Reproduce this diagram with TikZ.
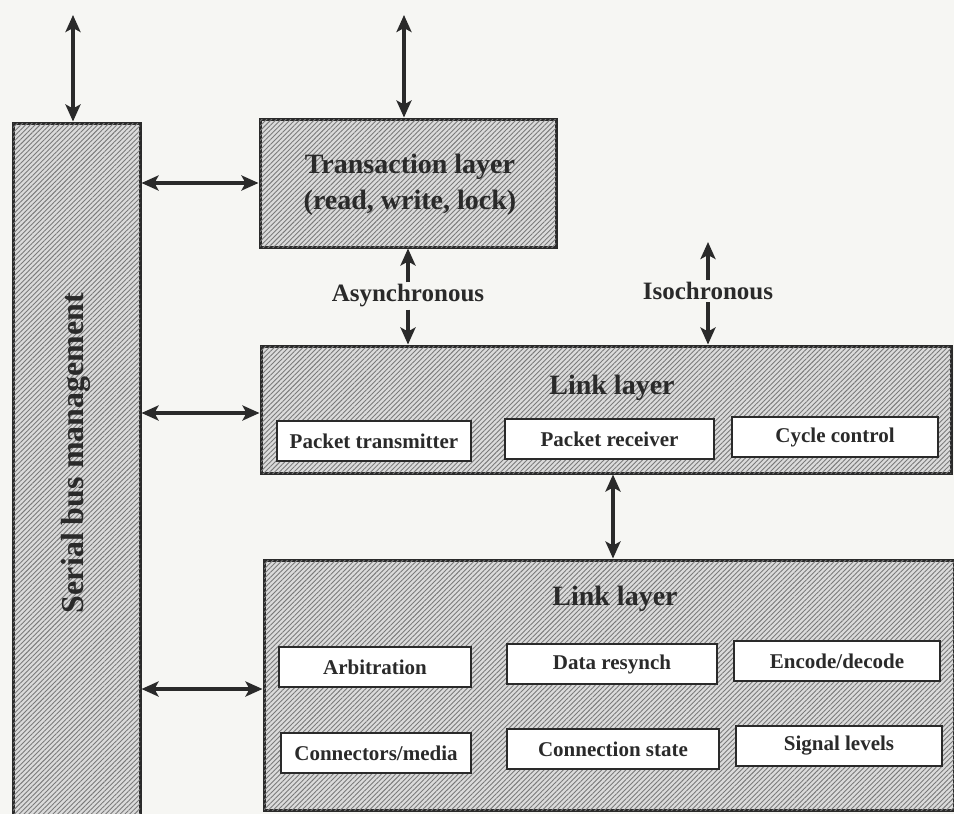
\documentclass[tikz,border=0pt]{standalone}
\usepackage{fontspec}
\setmainfont{Liberation Serif}
\usetikzlibrary{patterns.meta,arrows.meta}
\definecolor{ink}{HTML}{2A2A2A}
\definecolor{paper}{HTML}{F6F6F3}
\tikzset{
  hatched/.style={draw=ink, line width=3pt, fill=gray!28,
    postaction={pattern={Lines[angle=45,distance=3.4pt,line width=0.9pt]}, pattern color=gray!70!black!80}},
  subbox/.style={draw=ink, line width=2pt, fill=white, minimum height=40pt, inner sep=0pt,
    font=\fontsize{21}{24}\selectfont\bfseries, text=ink},
  title/.style={font=\fontsize{28}{34}\selectfont\bfseries, text=ink, inner sep=0pt},
  lbl/.style={font=\fontsize{25}{28}\selectfont\bfseries, text=ink, inner sep=2pt},
  tip/.style={Stealth[length=17pt,width=15pt,inset=4pt]},
  conn/.style={draw=ink, line width=3.4pt, {Stealth[length=17pt,width=15pt,inset=4pt]}-{Stealth[length=17pt,width=15pt,inset=4pt]}},
  oneway/.style={draw=ink, line width=3.4pt, -{Stealth[length=17pt,width=15pt,inset=4pt]}}
}
\begin{document}
\begin{tikzpicture}[x=1pt,y=-1pt]
\useasboundingbox (0,0) rectangle (954,814);
\fill[paper] (0,0) rectangle (954,814);

% main boxes
\node[hatched, minimum width=127pt, minimum height=720pt, inner sep=0pt] (sbm) at (76.5,483) {};
\node[rotate=90, font=\fontsize{32}{36}\selectfont\bfseries, text=ink] (sbmtext) at (76,453) {Serial bus management};

\node[hatched, minimum width=296pt, minimum height=128pt, inner sep=0pt] (trans) at (408,183) {};
\node[title, align=center, font=\fontsize{28}{36}\selectfont\bfseries] (transtext) at (410,185) {Transaction layer\\(read, write, lock)};

\node[hatched, minimum width=690pt, minimum height=127pt, inner sep=0pt] (link1) at (606,409.5) {};
\node[title] (link1title) at (612,388) {Link layer};
\node[subbox, minimum width=194pt] (ptx) at (374,441) {Packet transmitter};
\node[subbox, minimum width=209pt] (prx) at (609.5,439) {Packet receiver};
\node[subbox, minimum width=206pt] (cyc) at (835,437) {Cycle control};

\node[hatched, minimum width=690pt, minimum height=250pt, inner sep=0pt] (link2) at (609,685) {};
\node[title] (link2title) at (615,599) {Link layer};
\node[subbox, minimum width=192pt] (arb) at (375,667) {Arbitration};
\node[subbox, minimum width=210pt] (drs) at (612,664) {Data resynch};
\node[subbox, minimum width=206pt] (enc) at (837,661) {Encode/decode};
\node[subbox, minimum width=190pt] (cmd) at (376,753) {Connectors/media};
\node[subbox, minimum width=212pt] (cst) at (613,749) {Connection state};
\node[subbox, minimum width=206pt] (sig) at (839,746) {Signal levels};

% labels
\node[lbl] (async) at (408,296) {Asynchronous};
\node[lbl] (iso) at (708,291) {Isochronous};

% free ends
\coordinate (sbmtop) at (73,15);
\coordinate (transtop) at (404,15);
\coordinate (isotop) at (708,242);

% connectors
\draw[conn] (sbmtop) -- (sbmtop |- sbm.north);
\draw[conn] (transtop) -- (transtop |- trans.north);
\draw[conn] (sbm.east |- 0,183) -- (trans.west |- 0,183);
\draw[conn] (sbm.east |- 0,413) -- (link1.west |- 0,413);
\draw[conn] (sbm.east |- 0,689) -- (link2.west |- 0,689);
\draw[oneway] (async.north) -- (async.north |- trans.south);
\draw[oneway] (async.south) -- (async.south |- link1.north);
\draw[oneway] (iso.north) -- (isotop);
\draw[oneway] (iso.south) -- (iso.south |- link1.north);
\draw[conn] (613,0 |- link1.south) -- (613,0 |- link2.north);
\end{tikzpicture}
\end{document}
